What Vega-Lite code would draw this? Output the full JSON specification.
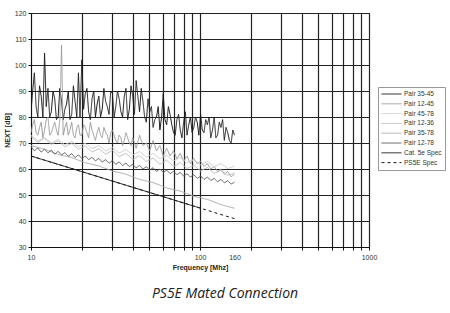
{
  "$schema": "https://vega.github.io/schema/vega-lite/v6.json",
  "width": 338,
  "height": 234,
  "autosize": "none",
  "padding": {"left": 31, "top": 13, "right": 81, "bottom": 66},
  "background": "white",
  "title": {"text": "PS5E Mated Connection", "orient": "bottom", "font": "Open Sans", "fontStyle": "italic", "fontWeight": "normal", "fontSize": 14, "color": "#222", "offset": 17, "dx": 25},
  "config": {
    "view": {"stroke": "#111", "strokeWidth": 1},
    "axis": {"labelFont": "Liberation Sans", "labelFontSize": 7, "labelColor": "#333", "titleFont": "Liberation Sans", "titleFontSize": 7, "titleFontWeight": "bold", "titleColor": "#222", "domainColor": "#111", "tickColor": "#111", "tickSize": 3, "gridColor": "#222", "gridWidth": 1.2, "gridOpacity": 1}
  },
  "data": {"values": [
    {"s":"Pair 35-45","f":10,"v":82},{"s":"Pair 35-45","f":10.23,"v":90},{"s":"Pair 35-45","f":10.47,"v":97},{"s":"Pair 35-45","f":10.72,"v":84},{"s":"Pair 35-45","f":10.97,"v":80},{"s":"Pair 35-45","f":11.23,"v":92},{"s":"Pair 35-45","f":11.49,"v":88},{"s":"Pair 35-45","f":11.76,"v":80},{"s":"Pair 35-45","f":12.03,"v":104.6},{"s":"Pair 35-45","f":12.31,"v":84},{"s":"Pair 35-45","f":12.6,"v":91},{"s":"Pair 35-45","f":12.9,"v":80},{"s":"Pair 35-45","f":13.19,"v":82},{"s":"Pair 35-45","f":13.5,"v":90},{"s":"Pair 35-45","f":13.82,"v":87},{"s":"Pair 35-45","f":14.14,"v":79},{"s":"Pair 35-45","f":14.47,"v":80},{"s":"Pair 35-45","f":14.81,"v":91},{"s":"Pair 35-45","f":15.16,"v":86},{"s":"Pair 35-45","f":15.51,"v":79},{"s":"Pair 35-45","f":15.87,"v":83},{"s":"Pair 35-45","f":16.24,"v":85},{"s":"Pair 35-45","f":16.62,"v":90},{"s":"Pair 35-45","f":17.01,"v":79},{"s":"Pair 35-45","f":17.41,"v":81},{"s":"Pair 35-45","f":17.82,"v":92},{"s":"Pair 35-45","f":18.23,"v":86},{"s":"Pair 35-45","f":18.66,"v":80},{"s":"Pair 35-45","f":19.09,"v":97},{"s":"Pair 35-45","f":19.5,"v":80},{"s":"Pair 35-45","f":20.0,"v":102},{"s":"Pair 35-45","f":20.47,"v":83},{"s":"Pair 35-45","f":20.94,"v":89},{"s":"Pair 35-45","f":21.43,"v":91},{"s":"Pair 35-45","f":21.93,"v":82},{"s":"Pair 35-45","f":22.44,"v":79},{"s":"Pair 35-45","f":22.97,"v":87},{"s":"Pair 35-45","f":23.51,"v":90},{"s":"Pair 35-45","f":24.06,"v":80},{"s":"Pair 35-45","f":24.62,"v":85},{"s":"Pair 35-45","f":25.2,"v":88},{"s":"Pair 35-45","f":25.79,"v":80},{"s":"Pair 35-45","f":26.39,"v":83},{"s":"Pair 35-45","f":27.0,"v":91},{"s":"Pair 35-45","f":27.64,"v":86},{"s":"Pair 35-45","f":28.29,"v":84},{"s":"Pair 35-45","f":28.95,"v":81},{"s":"Pair 35-45","f":29.63,"v":90},{"s":"Pair 35-45","f":30.32,"v":89},{"s":"Pair 35-45","f":31.03,"v":80},{"s":"Pair 35-45","f":31.75,"v":84},{"s":"Pair 35-45","f":32.49,"v":90},{"s":"Pair 35-45","f":33.25,"v":87},{"s":"Pair 35-45","f":34.03,"v":82},{"s":"Pair 35-45","f":34.83,"v":80},{"s":"Pair 35-45","f":35.64,"v":88},{"s":"Pair 35-45","f":36.47,"v":91},{"s":"Pair 35-45","f":37.32,"v":79},{"s":"Pair 35-45","f":38.2,"v":83},{"s":"Pair 35-45","f":39.09,"v":92},{"s":"Pair 35-45","f":40.0,"v":88},{"s":"Pair 35-45","f":40.94,"v":81},{"s":"Pair 35-45","f":41.9,"v":94},{"s":"Pair 35-45","f":42.88,"v":88},{"s":"Pair 35-45","f":43.88,"v":82},{"s":"Pair 35-45","f":44.91,"v":91},{"s":"Pair 35-45","f":45.96,"v":86},{"s":"Pair 35-45","f":47.03,"v":80},{"s":"Pair 35-45","f":48.13,"v":78},{"s":"Pair 35-45","f":49.26,"v":87},{"s":"Pair 35-45","f":50.41,"v":82},{"s":"Pair 35-45","f":51.59,"v":84},{"s":"Pair 35-45","f":52.8,"v":76},{"s":"Pair 35-45","f":54.04,"v":79},{"s":"Pair 35-45","f":55.3,"v":80},{"s":"Pair 35-45","f":56.59,"v":84},{"s":"Pair 35-45","f":57.9,"v":75},{"s":"Pair 35-45","f":59.27,"v":80},{"s":"Pair 35-45","f":60.6,"v":89},{"s":"Pair 35-45","f":62.0,"v":79},{"s":"Pair 35-45","f":63.5,"v":77},{"s":"Pair 35-45","f":65.0,"v":84},{"s":"Pair 35-45","f":66.5,"v":81},{"s":"Pair 35-45","f":68.1,"v":77},{"s":"Pair 35-45","f":69.7,"v":74},{"s":"Pair 35-45","f":71.3,"v":73},{"s":"Pair 35-45","f":73.0,"v":79},{"s":"Pair 35-45","f":74.7,"v":81},{"s":"Pair 35-45","f":76.4,"v":75},{"s":"Pair 35-45","f":78.2,"v":72},{"s":"Pair 35-45","f":80.0,"v":78},{"s":"Pair 35-45","f":81.9,"v":82},{"s":"Pair 35-45","f":83.8,"v":73},{"s":"Pair 35-45","f":85.8,"v":77},{"s":"Pair 35-45","f":87.8,"v":80},{"s":"Pair 35-45","f":89.8,"v":74},{"s":"Pair 35-45","f":91.9,"v":76},{"s":"Pair 35-45","f":94.1,"v":80},{"s":"Pair 35-45","f":96.3,"v":78},{"s":"Pair 35-45","f":98.5,"v":73},{"s":"Pair 35-45","f":100.8,"v":81},{"s":"Pair 35-45","f":103.2,"v":75},{"s":"Pair 35-45","f":105.6,"v":74},{"s":"Pair 35-45","f":108.1,"v":79},{"s":"Pair 35-45","f":110.6,"v":77},{"s":"Pair 35-45","f":113.2,"v":80},{"s":"Pair 35-45","f":115.8,"v":72},{"s":"Pair 35-45","f":118.5,"v":75},{"s":"Pair 35-45","f":121.3,"v":80},{"s":"Pair 35-45","f":124.1,"v":72},{"s":"Pair 35-45","f":127.0,"v":73},{"s":"Pair 35-45","f":130.0,"v":78},{"s":"Pair 35-45","f":133.0,"v":76},{"s":"Pair 35-45","f":136.1,"v":79},{"s":"Pair 35-45","f":139.3,"v":71},{"s":"Pair 35-45","f":142.6,"v":76},{"s":"Pair 35-45","f":145.9,"v":74},{"s":"Pair 35-45","f":149.3,"v":71},{"s":"Pair 35-45","f":152.8,"v":70},{"s":"Pair 35-45","f":156.4,"v":75},{"s":"Pair 35-45","f":160,"v":73},

    {"s":"Pair 12-45","f":10,"v":74},{"s":"Pair 12-45","f":10.23,"v":77},{"s":"Pair 12-45","f":10.47,"v":79},{"s":"Pair 12-45","f":10.72,"v":74},{"s":"Pair 12-45","f":10.97,"v":73},{"s":"Pair 12-45","f":11.23,"v":76},{"s":"Pair 12-45","f":11.49,"v":78},{"s":"Pair 12-45","f":11.76,"v":72},{"s":"Pair 12-45","f":12.03,"v":75},{"s":"Pair 12-45","f":12.31,"v":79},{"s":"Pair 12-45","f":12.6,"v":80},{"s":"Pair 12-45","f":12.9,"v":73},{"s":"Pair 12-45","f":13.19,"v":74},{"s":"Pair 12-45","f":13.5,"v":76},{"s":"Pair 12-45","f":13.82,"v":78},{"s":"Pair 12-45","f":14.14,"v":75},{"s":"Pair 12-45","f":14.47,"v":73},{"s":"Pair 12-45","f":14.81,"v":79},{"s":"Pair 12-45","f":15.16,"v":107.7},{"s":"Pair 12-45","f":15.51,"v":73},{"s":"Pair 12-45","f":15.87,"v":76},{"s":"Pair 12-45","f":16.24,"v":78},{"s":"Pair 12-45","f":16.62,"v":73},{"s":"Pair 12-45","f":17.01,"v":75},{"s":"Pair 12-45","f":17.41,"v":78},{"s":"Pair 12-45","f":17.82,"v":73},{"s":"Pair 12-45","f":18.23,"v":72},{"s":"Pair 12-45","f":18.66,"v":76},{"s":"Pair 12-45","f":19.09,"v":77},{"s":"Pair 12-45","f":19.5,"v":73},{"s":"Pair 12-45","f":20.0,"v":73},{"s":"Pair 12-45","f":20.47,"v":77},{"s":"Pair 12-45","f":20.94,"v":76},{"s":"Pair 12-45","f":21.43,"v":74},{"s":"Pair 12-45","f":21.93,"v":72},{"s":"Pair 12-45","f":22.44,"v":78},{"s":"Pair 12-45","f":22.97,"v":75},{"s":"Pair 12-45","f":23.51,"v":73},{"s":"Pair 12-45","f":24.06,"v":71},{"s":"Pair 12-45","f":24.62,"v":74},{"s":"Pair 12-45","f":25.2,"v":76},{"s":"Pair 12-45","f":25.79,"v":73},{"s":"Pair 12-45","f":26.39,"v":72},{"s":"Pair 12-45","f":27.0,"v":76},{"s":"Pair 12-45","f":27.64,"v":74},{"s":"Pair 12-45","f":28.29,"v":73},{"s":"Pair 12-45","f":28.95,"v":70},{"s":"Pair 12-45","f":29.63,"v":74},{"s":"Pair 12-45","f":30.32,"v":75},{"s":"Pair 12-45","f":31.03,"v":73},{"s":"Pair 12-45","f":31.75,"v":71},{"s":"Pair 12-45","f":32.49,"v":70},{"s":"Pair 12-45","f":33.25,"v":73},{"s":"Pair 12-45","f":34.03,"v":72},{"s":"Pair 12-45","f":34.83,"v":69},{"s":"Pair 12-45","f":35.64,"v":71},{"s":"Pair 12-45","f":36.47,"v":74},{"s":"Pair 12-45","f":37.32,"v":72},{"s":"Pair 12-45","f":38.2,"v":70},{"s":"Pair 12-45","f":39.09,"v":69},{"s":"Pair 12-45","f":40.0,"v":72},{"s":"Pair 12-45","f":41.9,"v":68},{"s":"Pair 12-45","f":43.88,"v":73},{"s":"Pair 12-45","f":45.96,"v":69},{"s":"Pair 12-45","f":48.13,"v":70},{"s":"Pair 12-45","f":50.41,"v":67},{"s":"Pair 12-45","f":52.8,"v":71},{"s":"Pair 12-45","f":55.3,"v":67},{"s":"Pair 12-45","f":57.9,"v":69},{"s":"Pair 12-45","f":60.6,"v":65},{"s":"Pair 12-45","f":63.5,"v":68},{"s":"Pair 12-45","f":66.5,"v":65},{"s":"Pair 12-45","f":69.7,"v":67},{"s":"Pair 12-45","f":73.0,"v":64},{"s":"Pair 12-45","f":76.4,"v":66},{"s":"Pair 12-45","f":80.0,"v":63},{"s":"Pair 12-45","f":83.8,"v":65},{"s":"Pair 12-45","f":87.8,"v":62},{"s":"Pair 12-45","f":91.9,"v":64},{"s":"Pair 12-45","f":96.3,"v":62},{"s":"Pair 12-45","f":100.8,"v":63},{"s":"Pair 12-45","f":105.6,"v":61},{"s":"Pair 12-45","f":110.6,"v":62},{"s":"Pair 12-45","f":115.8,"v":60},{"s":"Pair 12-45","f":121.3,"v":61},{"s":"Pair 12-45","f":127.0,"v":59},{"s":"Pair 12-45","f":133.0,"v":60},{"s":"Pair 12-45","f":139.3,"v":58},{"s":"Pair 12-45","f":145.9,"v":59},{"s":"Pair 12-45","f":152.8,"v":57},{"s":"Pair 12-45","f":160,"v":58},

    {"s":"Pair 45-78","f":10,"v":73.0},{"s":"Pair 45-78","f":10.97,"v":70.8},{"s":"Pair 45-78","f":12.03,"v":72.0},{"s":"Pair 45-78","f":13.19,"v":70.0},{"s":"Pair 45-78","f":14.47,"v":71.4},{"s":"Pair 45-78","f":15.87,"v":69.3},{"s":"Pair 45-78","f":17.41,"v":70.6},{"s":"Pair 45-78","f":19.09,"v":68.6},{"s":"Pair 45-78","f":20.94,"v":69.9},{"s":"Pair 45-78","f":22.97,"v":67.8},{"s":"Pair 45-78","f":25.2,"v":69.1},{"s":"Pair 45-78","f":27.64,"v":67.0},{"s":"Pair 45-78","f":30.32,"v":68.2},{"s":"Pair 45-78","f":33.25,"v":66.1},{"s":"Pair 45-78","f":36.47,"v":67.5},{"s":"Pair 45-78","f":40.0,"v":65.4},{"s":"Pair 45-78","f":43.88,"v":66.7},{"s":"Pair 45-78","f":48.13,"v":64.6},{"s":"Pair 45-78","f":52.8,"v":66.0},{"s":"Pair 45-78","f":57.9,"v":63.9},{"s":"Pair 45-78","f":63.5,"v":65.2},{"s":"Pair 45-78","f":69.7,"v":63.1},{"s":"Pair 45-78","f":76.4,"v":64.4},{"s":"Pair 45-78","f":83.8,"v":62.4},{"s":"Pair 45-78","f":91.9,"v":63.7},{"s":"Pair 45-78","f":100.8,"v":61.6},{"s":"Pair 45-78","f":110.6,"v":62.9},{"s":"Pair 45-78","f":121.3,"v":60.9},{"s":"Pair 45-78","f":133.0,"v":62.1},{"s":"Pair 45-78","f":145.9,"v":60.2},{"s":"Pair 45-78","f":160,"v":61.0},

    {"s":"Pair 12-36","f":10,"v":72.5},{"s":"Pair 12-36","f":10.97,"v":70.2},{"s":"Pair 12-36","f":12.03,"v":71.8},{"s":"Pair 12-36","f":13.19,"v":69.4},{"s":"Pair 12-36","f":14.47,"v":70.9},{"s":"Pair 12-36","f":15.87,"v":68.5},{"s":"Pair 12-36","f":17.41,"v":69.9},{"s":"Pair 12-36","f":19.09,"v":67.6},{"s":"Pair 12-36","f":20.94,"v":68.9},{"s":"Pair 12-36","f":22.97,"v":66.5},{"s":"Pair 12-36","f":25.2,"v":67.8},{"s":"Pair 12-36","f":27.64,"v":65.7},{"s":"Pair 12-36","f":30.32,"v":67.2},{"s":"Pair 12-36","f":33.25,"v":64.8},{"s":"Pair 12-36","f":36.47,"v":66.0},{"s":"Pair 12-36","f":40.0,"v":63.7},{"s":"Pair 12-36","f":43.88,"v":65.1},{"s":"Pair 12-36","f":48.13,"v":62.9},{"s":"Pair 12-36","f":52.8,"v":64.2},{"s":"Pair 12-36","f":57.9,"v":61.8},{"s":"Pair 12-36","f":63.5,"v":63.4},{"s":"Pair 12-36","f":69.7,"v":61.0},{"s":"Pair 12-36","f":76.4,"v":62.5},{"s":"Pair 12-36","f":83.8,"v":60.2},{"s":"Pair 12-36","f":91.9,"v":61.4},{"s":"Pair 12-36","f":100.8,"v":59.3},{"s":"Pair 12-36","f":110.6,"v":60.6},{"s":"Pair 12-36","f":121.3,"v":58.3},{"s":"Pair 12-36","f":133.0,"v":59.5},{"s":"Pair 12-36","f":145.9,"v":57.6},{"s":"Pair 12-36","f":160,"v":58.4},

    {"s":"Pair 35-78","f":10,"v":69.0},{"s":"Pair 35-78","f":12.03,"v":67.6},{"s":"Pair 35-78","f":14.47,"v":65.6},{"s":"Pair 35-78","f":17.41,"v":64.4},{"s":"Pair 35-78","f":20.94,"v":62.4},{"s":"Pair 35-78","f":25.2,"v":61.2},{"s":"Pair 35-78","f":30.32,"v":59.2},{"s":"Pair 35-78","f":36.47,"v":58.0},{"s":"Pair 35-78","f":43.88,"v":56.0},{"s":"Pair 35-78","f":52.8,"v":54.8},{"s":"Pair 35-78","f":63.5,"v":52.7},{"s":"Pair 35-78","f":76.4,"v":51.5},{"s":"Pair 35-78","f":91.9,"v":49.5},{"s":"Pair 35-78","f":110.6,"v":48.3},{"s":"Pair 35-78","f":133.0,"v":46.3},{"s":"Pair 35-78","f":160,"v":44.9},

    {"s":"Pair 12-78","f":10,"v":68.6},{"s":"Pair 12-78","f":10.47,"v":67.0},{"s":"Pair 12-78","f":10.97,"v":68.1},{"s":"Pair 12-78","f":11.49,"v":66.5},{"s":"Pair 12-78","f":12.03,"v":67.6},{"s":"Pair 12-78","f":12.6,"v":66.2},{"s":"Pair 12-78","f":13.19,"v":67.3},{"s":"Pair 12-78","f":13.82,"v":65.7},{"s":"Pair 12-78","f":14.47,"v":66.8},{"s":"Pair 12-78","f":15.16,"v":65.4},{"s":"Pair 12-78","f":15.87,"v":66.3},{"s":"Pair 12-78","f":16.62,"v":64.9},{"s":"Pair 12-78","f":17.41,"v":65.9},{"s":"Pair 12-78","f":18.23,"v":64.4},{"s":"Pair 12-78","f":19.09,"v":65.4},{"s":"Pair 12-78","f":20.0,"v":64.0},{"s":"Pair 12-78","f":20.94,"v":65.0},{"s":"Pair 12-78","f":21.93,"v":63.6},{"s":"Pair 12-78","f":22.97,"v":64.5},{"s":"Pair 12-78","f":24.06,"v":63.1},{"s":"Pair 12-78","f":25.2,"v":64.1},{"s":"Pair 12-78","f":26.39,"v":62.7},{"s":"Pair 12-78","f":27.64,"v":63.6},{"s":"Pair 12-78","f":28.95,"v":62.2},{"s":"Pair 12-78","f":30.32,"v":63.2},{"s":"Pair 12-78","f":31.75,"v":61.8},{"s":"Pair 12-78","f":33.25,"v":62.7},{"s":"Pair 12-78","f":34.83,"v":61.3},{"s":"Pair 12-78","f":36.47,"v":62.3},{"s":"Pair 12-78","f":38.2,"v":60.9},{"s":"Pair 12-78","f":40.0,"v":61.8},{"s":"Pair 12-78","f":41.9,"v":60.4},{"s":"Pair 12-78","f":43.88,"v":61.4},{"s":"Pair 12-78","f":45.96,"v":60.0},{"s":"Pair 12-78","f":48.13,"v":60.9},{"s":"Pair 12-78","f":50.41,"v":59.6},{"s":"Pair 12-78","f":52.8,"v":60.5},{"s":"Pair 12-78","f":55.3,"v":59.1},{"s":"Pair 12-78","f":57.9,"v":60.0},{"s":"Pair 12-78","f":60.6,"v":58.7},{"s":"Pair 12-78","f":63.5,"v":59.6},{"s":"Pair 12-78","f":66.5,"v":58.2},{"s":"Pair 12-78","f":69.7,"v":59.1},{"s":"Pair 12-78","f":73.0,"v":57.8},{"s":"Pair 12-78","f":76.4,"v":58.7},{"s":"Pair 12-78","f":80.0,"v":57.3},{"s":"Pair 12-78","f":83.8,"v":58.2},{"s":"Pair 12-78","f":87.8,"v":56.9},{"s":"Pair 12-78","f":91.9,"v":57.8},{"s":"Pair 12-78","f":96.3,"v":56.4},{"s":"Pair 12-78","f":100.8,"v":57.3},{"s":"Pair 12-78","f":105.6,"v":56.0},{"s":"Pair 12-78","f":110.6,"v":56.9},{"s":"Pair 12-78","f":115.8,"v":55.6},{"s":"Pair 12-78","f":121.3,"v":56.4},{"s":"Pair 12-78","f":127.0,"v":55.1},{"s":"Pair 12-78","f":133.0,"v":56.0},{"s":"Pair 12-78","f":139.3,"v":54.7},{"s":"Pair 12-78","f":145.9,"v":55.5},{"s":"Pair 12-78","f":152.8,"v":54.2},{"s":"Pair 12-78","f":160,"v":54.9},

    {"s":"PS5E Spec","f":10,"v":65},{"s":"PS5E Spec","f":160,"v":40.9},
    {"s":"Cat. 5e Spec","f":10,"v":65},{"s":"Cat. 5e Spec","f":100,"v":45}
  ]},
  "encoding": {
    "x": {"field": "f", "type": "quantitative", "title": "Frequency [Mhz]",
      "scale": {"type": "log", "domain": [10, 1000], "nice": false},
      "axis": {"values": [10,20,30,40,50,60,70,80,90,100,160,200,300,400,500,600,700,800,900,1000],
        "labelExpr": "indexof([10,100,160,1000], datum.value) >= 0 ? '' + datum.value : ''",
        "gridColor": {"condition": {"test": "datum.value == 160", "value": "transparent"}, "value": "#222"},
        "tickColor": {"condition": {"test": "datum.value == 160", "value": "transparent"}, "value": "#111"},
        "labelPadding": 3, "titlePadding": 3, "labelFlush": false}},
    "y": {"field": "v", "type": "quantitative", "title": "NEXT [dB]",
      "scale": {"domain": [30, 120], "nice": false},
      "axis": {"values": [30,40,50,60,70,80,90,100,110,120], "labelPadding": 2, "titlePadding": 4}},
    "color": {"field": "s", "type": "nominal", "title": null,
      "scale": {"domain": ["Pair 35-45","Pair 12-45","Pair 45-78","Pair 12-36","Pair 35-78","Pair 12-78","Cat. 5e Spec","PS5E Spec"],
        "range": ["#1a1a1a","#9a9a9a","#cdcdcd","#bdbdbd","#aaaaaa","#5a5a5a","#1a1a1a","#1a1a1a"]},
      "legend": {"orient": "none", "legendX": 347, "legendY": 74, "symbolType": "stroke", "symbolSize": 400, "clipHeight": 8, "labelFont": "Liberation Sans", "labelFontSize": 6.5, "labelColor": "#333", "strokeColor": "#999", "fillColor": "white", "padding": 3, "rowPadding": 1.8, "labelOffset": 2}},
    "strokeDash": {"field": "s", "type": "nominal", "title": null,
      "scale": {"domain": ["Pair 35-45","Pair 12-45","Pair 45-78","Pair 12-36","Pair 35-78","Pair 12-78","Cat. 5e Spec","PS5E Spec"],
        "range": [[1,0],[1,0],[1,0],[1,0],[1,0],[1,0],[1,0],[3,3]]}},
    "strokeWidth": {"field": "s", "type": "nominal", "title": null,
      "scale": {"domain": ["Pair 35-45","Pair 12-45","Pair 45-78","Pair 12-36","Pair 35-78","Pair 12-78","Cat. 5e Spec","PS5E Spec"],
        "range": [1,1,1.4,1,1.4,0.9,1.8,1.5]}}
  },
  "layer": [
    {"transform": [{"filter": "indexof(['Cat. 5e Spec','PS5E Spec'], datum.s) < 0"}], "mark": {"type": "line", "clip": true}},
    {"transform": [{"filter": "datum.s == 'PS5E Spec'"}], "mark": {"type": "line", "clip": true}},
    {"transform": [{"filter": "datum.s == 'Cat. 5e Spec'"}], "mark": {"type": "line", "clip": true}}
  ]
}
